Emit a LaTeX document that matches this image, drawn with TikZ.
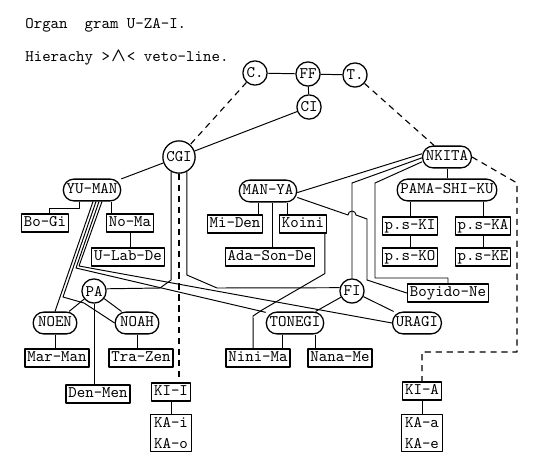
\documentclass[tikz,border=0pt]{standalone}
\usepackage{amsmath}
\usetikzlibrary{calc}
\begin{document}
\begin{tikzpicture}[x=0.62pt, y=-0.62pt, font=\ttfamily, line join=round,
    ring/.style={circle, draw, thick, inner sep=1pt, minimum size=15pt},
    pill/.style={rectangle, rounded corners=6.5pt, draw, thick, inner xsep=2pt, inner ysep=0pt, text height=6.3pt, text depth=1.5pt, minimum height=13.5pt},
    postbox/.style={rectangle, draw, thick, inner xsep=1.5pt, inner ysep=1.5pt, text height=6.3pt, text depth=1.8pt},
    postpair/.style={rectangle, draw, thick, inner sep=2pt, align=center},
    wire/.style={line width=0.6pt},
    veto/.style={line width=0.7pt, dash pattern=on 3.8pt off 3pt}]
    \useasboundingbox (0,0) rectangle (533,461);
    % heading
    \node[anchor=base west, inner sep=0] (title) at (25,28) {Organ\ \ gram U-ZA-I.};
    \node[anchor=base west, inner sep=0] (legend) at (25,61) {Hierachy >\makebox[10.5pt]{\large$\boldsymbol{\wedge}$}< veto-line.};
    % top
    \node[ring] (C) at (255,73) {C.};
    \node[ring] (FF) at (308,74) {FF};
    \node[ring] (T) at (355,75) {T.};
    \node[ring] (CI) at (309,107) {CI};
    \node[ring, minimum size=20pt] (CGI) at (179,157) {CGI};
    \node[pill] (NKITA) at (447,157) {NKITA};
    % second level
    \node[pill] (YUMAN) at (92,190) {YU-MAN};
    \node[pill] (MANYA) at (268,191) {MAN-YA};
    \node[pill] (PAMA) at (447,190) {PAMA-SHI-KU};
    \node[postbox] (BoGi) at (45,223) {Bo-Gi};
    \node[postbox] (NoMa) at (130,223) {No-Ma};
    \node[postbox] (ULabDe) at (128,257) {U-Lab-De};
    \node[postbox] (MiDen) at (235,224) {Mi-Den};
    \node[postbox] (Koini) at (303,224) {Koini};
    \node[postbox] (AdaSonDe) at (270,257) {Ada-Son-De};
    \node[postbox] (psKI) at (410,226) {p.s-KI};
    \node[postbox] (psKA) at (483,226) {p.s-KA};
    \node[postbox] (psKO) at (410,257) {p.s-KO};
    \node[postbox] (psKE) at (483,257) {p.s-KE};
    \node[postbox] (Boyido) at (448,293) {Boyido-Ne};
    % lower level
    \node[ring] (PA) at (94,291) {PA};
    \node[ring] (FI) at (352,291) {FI};
    \node[pill, minimum width=27pt] (NOEN) at (55,323) {NOEN};
    \node[pill, minimum width=27pt] (NOAH) at (137,323) {NOAH};
    \node[pill] (TONEGI) at (295,323) {TONEGI};
    \node[pill] (URAGI) at (417,323) {URAGI};
    \node[postbox] (MarMan) at (57,358) {Mar-Man};
    \node[postbox] (TraZen) at (141,358) {Tra-Zen};
    \node[postbox] (NiniMa) at (258,358) {Nini-Ma};
    \node[postbox] (NanaMe) at (340,358) {Nana-Me};
    \node[postbox] (DenMen) at (98,394) {Den-Men};
    \node[postbox] (KII) at (171,392) {KI-I};
    \node[postpair] (KAio) at (171,433) {KA-i\\[1pt]KA-o};
    \node[postbox] (KIA) at (422,391) {KI-A};
    \node[postpair] (KAae) at (422,433) {KA-a\\[1pt]KA-e};
    % top links
    \draw[wire] (C) -- (FF) -- (T);
    \draw[wire] (FF) -- (CI);
    \draw[wire] (CI) -- (CGI);
    \draw[veto] (C) -- (CGI);
    \draw[veto] (T) -- (NKITA);
    \draw[wire] (CGI) -- (YUMAN);
    % NKITA
    \draw[wire] ([yshift=2pt]NKITA.west) -- ([yshift=-1pt]MANYA.east);
    \draw[wire] ([yshift=-0.5pt]NKITA.west) -- (FI.north |- 0,183) -- (FI.north);
    \draw[wire] ([yshift=-3pt]NKITA.west) -- (375,183) -- (375,278) -| (Boyido.north);
    \draw[wire] (NKITA) -- (PAMA);
    \draw[wire] (PAMA.south -| psKI.north) -- (psKI.north);
    \draw[wire] (PAMA.south -| psKA.north) -- (psKA.north);
    \draw[wire] (psKI) -- (psKO);
    \draw[wire] (psKA) -- (psKE);
    \draw[veto] (NKITA.east) -- (517,183) -- (517,352) -| (KIA.north);
    % MAN-YA
    \draw[wire] ([xshift=-6pt]MANYA.south) -- ([xshift=-6pt]MANYA.south |- MiDen.north);
    \draw[wire] ([xshift=2.5pt]MANYA.south) -- ([xshift=2.5pt]MANYA.south |- AdaSonDe.north);
    \draw[wire] ([xshift=11.8pt]MANYA.south) -- ([xshift=11.8pt]MANYA.south |- Koini.north);
    \draw[wire] ([yshift=-4pt]MANYA.east) -- (348,215) arc[start angle=180, end angle=360, radius=4] -- (367,219) -- (367,280) -- (Boyido.west);
    \draw[wire] ([xshift=-1.5pt]Koini.south east) -- ++(0,40) -- (262,310) -- (253,316) -- ([xshift=-3pt]NiniMa.north);
    % YU-MAN
    \draw[wire] ([xshift=-7.5pt]YUMAN.south) -- ++(0,7) -| ([xshift=2.5pt]BoGi.north);
    \draw[wire] ([xshift=12pt]YUMAN.south) -- ([xshift=12pt]YUMAN.south |- NoMa.north);
    \draw[wire] (NoMa.south) -- (NoMa.south |- ULabDe.north);
    \draw[wire] ($(YUMAN.south)+(1,0)$) -- (NOEN.north);
    \draw[wire] ($(YUMAN.south)+(4,0)$) -- (63,297) -- (84,303) -- (NOAH.west);
    \draw[wire] ($(YUMAN.south)+(7,0)$) -- (76,268) -- (TONEGI.160);
    \draw[wire] ($(YUMAN.south)+(10,0)$) -- (79,266) -- (URAGI.west);
    % CGI
    \draw[wire] (CGI.-118) -- (CGI.-118 |- 0,280) -- (160,288) -- (PA.10);
    \draw[wire] (CGI.-62) -- (CGI.-62 |- 0,275) -- (217,288) -- (FI.165);
    \draw[veto] (CGI.south) -- (CGI.south |- KII.north);
    % PA and FI
    \draw[wire] (PA) -- (NOEN);
    \draw[wire] (PA) -- (NOAH);
    \draw[wire] (PA.south) -- (PA.south |- DenMen.north);
    \draw[wire] (FI) -- (TONEGI);
    \draw[wire] (FI) -- (URAGI);
    % lower posts
    \draw[wire] (NOEN.south) -- (NOEN.south |- MarMan.north);
    \draw[wire] (NOAH.south) -- (NOAH.south |- TraZen.north);
    \draw[wire] ([xshift=-8pt]TONEGI.south) -- ([xshift=-8pt]TONEGI.south |- NiniMa.north);
    \draw[wire] ([xshift=12.4pt]TONEGI.south) -- ([xshift=12.4pt]TONEGI.south |- NanaMe.north);
    \draw[wire] (KII) -- (KAio);
    \draw[wire] (KIA) -- (KAae);
\end{tikzpicture}
\end{document}
